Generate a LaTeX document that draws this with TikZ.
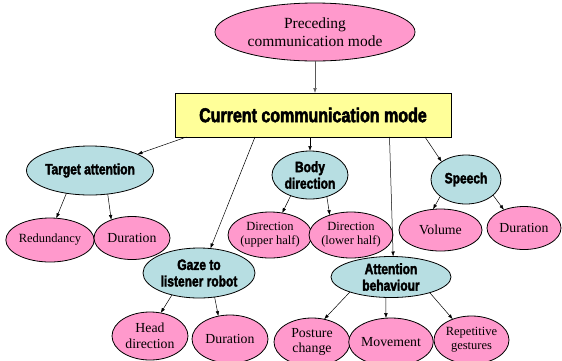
\documentclass[tikz,border=0pt]{standalone}
\usepackage{fontspec}
\setmainfont{Liberation Serif}
\newfontfamily\boldf[FakeStretch=0.8,FakeBold=2.5]{Liberation Sans}
\usetikzlibrary{shapes.geometric,arrows.meta}
\definecolor{pinkc}{HTML}{FF99CC}
\definecolor{bluec}{HTML}{B7DEE2}
\definecolor{yelc}{HTML}{FFFF99}
\tikzset{
  ell/.style={ellipse, draw=black, line width=0.8pt, inner sep=0pt, outer sep=0pt, align=center},
  pinkell/.style={ell, fill=pinkc, font=\fontsize{13.8}{15.5}\selectfont},
  smallpink/.style={ell, fill=pinkc, font=\fontsize{12.5}{14.3}\selectfont},
  blueell/.style={ell, fill=bluec, font=\boldf\bfseries\fontsize{15}{16.5}\selectfont},
  arr/.style={-{Latex[length=5pt,width=3.6pt]}, line width=0.5pt, black},
}
\begin{document}
\begin{tikzpicture}[x=1pt,y=-1pt]
\useasboundingbox (0,0) rectangle (562,360);
\clip (0,0) rectangle (562,360);
% top
\node[ell, fill=pinkc, minimum width=200pt, minimum height=58pt, font=\fontsize{15.5}{18}\selectfont] (prec) at (315,32) {Preceding\\communication mode};
\node[draw=black, line width=0.8pt, fill=yelc, minimum width=276pt, minimum height=44pt, inner sep=0pt, outer sep=0pt, font=\boldf\bfseries\fontsize{20}{22}\selectfont] (cur) at (313,115) {Current communication mode};
% second level
\node[blueell, minimum width=124pt, minimum height=49pt] (ta) at (90,170.5) {Target attention};
\node[blueell, minimum width=76pt, minimum height=48pt] (bd) at (310,175) {Body\\direction};
\node[blueell, minimum width=70pt, minimum height=49pt] (sp) at (466,179.5) {Speech};
\node[blueell, minimum width=112pt, minimum height=50pt] (gz) at (199,273) {Gaze to\\listener robot};
\node[blueell, minimum width=120pt, minimum height=41pt] (att) at (391,277) {Attention\\behaviour};
% leaves
\node[smallpink, minimum width=76pt, minimum height=44pt] (red) at (50,240) {Redundancy};
\node[pinkell, minimum width=76pt, minimum height=43pt] (dta) at (132,238) {Duration};
\node[smallpink, minimum width=76pt, minimum height=46pt] (du) at (270,235) {Direction\\(upper half)};
\node[smallpink, minimum width=76pt, minimum height=46pt] (dl) at (351,235) {Direction\\(lower half)};
\node[pinkell, minimum width=83pt, minimum height=42pt] (vol) at (440.5,230) {Volume};
\node[pinkell, minimum width=74pt, minimum height=43pt] (dsp) at (524,228) {Duration};
\node[pinkell, minimum width=76pt, minimum height=48pt] (hd) at (150,336) {Head\\direction};
\node[pinkell, minimum width=76pt, minimum height=48pt] (dg) at (230,339) {Duration};
\node[pinkell, minimum width=76pt, minimum height=48pt] (pc) at (312,342) {Posture\\change};
\node[pinkell, minimum width=76pt, minimum height=48pt] (mv) at (391,342) {Movement};
\node[smallpink, minimum width=75pt, minimum height=48pt] (rg) at (471.5,340) {Repetitive\\gestures};
% connectors
\draw[arr, draw=gray!70!black] (prec.south) -- (prec.south |- cur.north);
\draw[arr] ([xshift=11.5pt]cur.south west) -- (ta.19);
\draw[arr] ([xshift=80pt]cur.south west) -- (gz.65);
\draw[arr] (bd.north |- cur.south) -- (bd.north);
\draw[arr] ([xshift=214.5pt]cur.south west) -- (att.84);
\draw[arr] ([xshift=250pt]cur.south west) -- (sp.144);
\draw[arr] (ta.224) -- (red.74);
\draw[arr] (ta.307) -- (dta.139);
\draw[arr] (bd.227) -- (du.61);
\draw[arr] (bd.308) -- (dl.137);
\draw[arr] (sp.213) -- (vol.110);
\draw[arr] (sp.330) -- (dsp.138);
\draw[arr] (gz.219) -- (hd.65);
\draw[arr] (gz.303) -- (dg.117);
\draw[arr] (att.200) -- (pc.62);
\draw[arr] (att.256) -- (mv.102);
\draw[arr] (att.338) -- (rg.132);
\end{tikzpicture}
\end{document}
